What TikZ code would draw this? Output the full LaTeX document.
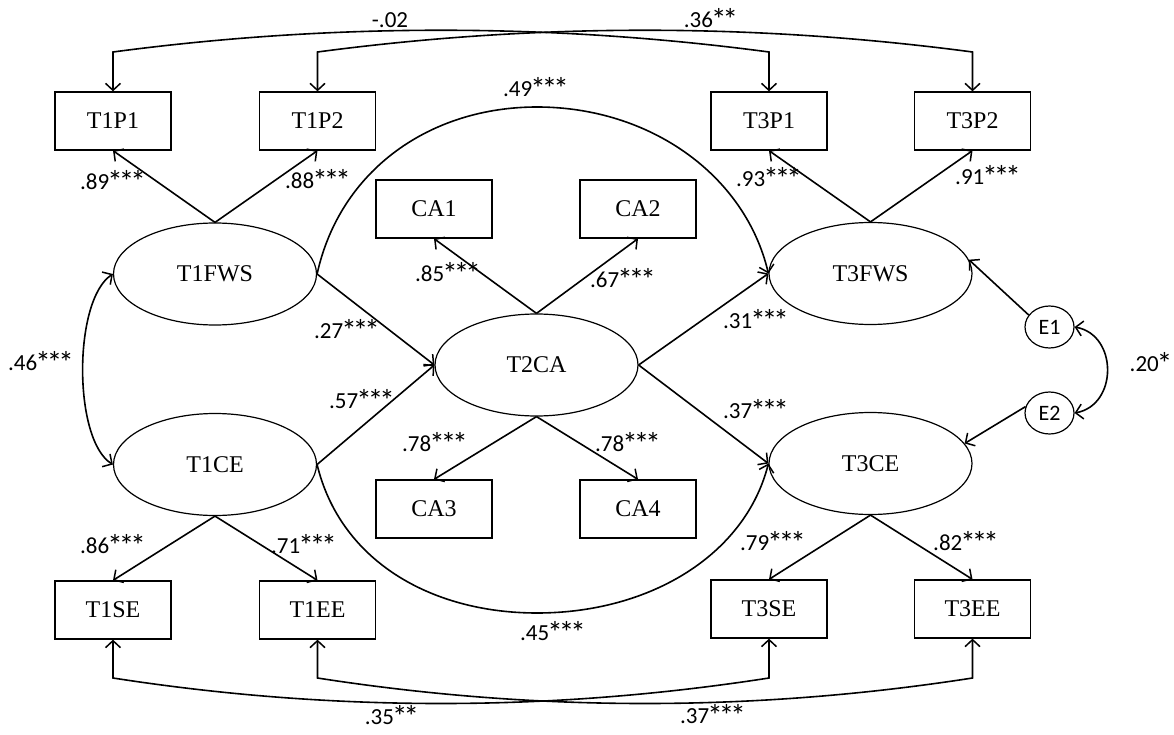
\documentclass[tikz,border=0pt]{standalone}
\usepackage{fontspec}
\setmainfont{Liberation Serif}
\newfontfamily\labfont{Carlito}
\usetikzlibrary{arrows.meta,shapes.geometric}
\newcommand\Ast{\makebox[0.5em]{\raisebox{-0.13em}{\scalebox{1.35}{*}}}}
\tikzset{
  box/.style={draw,line width=1.3pt,minimum width=116pt,minimum height=58pt,inner sep=0pt,font=\fontsize{24}{28}\selectfont},
  lat/.style={draw,ellipse,line width=1.2pt,minimum width=203pt,minimum height=102pt,inner sep=0pt,font=\fontsize{24}{28}\selectfont},
  err/.style={draw,ellipse,line width=1.2pt,minimum width=49pt,minimum height=42pt,inner sep=0pt,font=\labfont\fontsize{22}{26}\selectfont},
  lab/.style={inner sep=0pt,font=\labfont\fontsize{23}{27}\selectfont},
  tip/.tip={Straight Barb[length=7pt,width=15pt,line width=1.5pt]},
  arr/.style={line width=1.6pt,-tip},
  biarr/.style={line width=1.6pt,tip-tip},
}
\begin{document}
\begin{tikzpicture}[x=1pt,y=-1pt]
\useasboundingbox (0,0) rectangle (1174,735);
% boxes
\node[box] (T1P1) at (113,121) {T1P1};
\node[box] (T1P2) at (317.5,121) {T1P2};
\node[box] (T3P1) at (769,121) {T3P1};
\node[box] (T3P2) at (972.5,121) {T3P2};
\node[box] (CA1) at (434,209) {CA1};
\node[box] (CA2) at (638,209) {CA2};
\node[box] (CA3) at (434,509) {CA3};
\node[box] (CA4) at (638,509) {CA4};
\node[box] (T1SE) at (113,610) {T1SE};
\node[box] (T1EE) at (317.5,610) {T1EE};
\node[box] (T3SE) at (769,609) {T3SE};
\node[box] (T3EE) at (972.5,609) {T3EE};
% latent
\node[lat] (T1FWS) at (215,274) {T1FWS};
\node[lat] (T1CE) at (215,464.5) {T1CE};
\node[lat] (T2CA) at (536.5,365) {T2CA};
\node[lat] (T3FWS) at (870.5,273.5) {T3FWS};
\node[lat] (T3CE) at (870.5,463.5) {T3CE};
\node[err] (E1) at (1049.5,327) {E1};
\node[err] (E2) at (1049.5,413) {E2};
% loadings
\draw[arr] (T1FWS.north) -- (T1P1.south);
\draw[arr] (T1FWS.north) -- (T1P2.south);
\draw[arr] (T3FWS.north) -- (T3P1.south);
\draw[arr] (T3FWS.north) -- (T3P2.south);
\draw[arr] (T2CA.north) -- (CA1.south);
\draw[arr] (T2CA.north) -- (CA2.south);
\draw[arr] (T2CA.south) -- (CA3.north);
\draw[arr] (T2CA.south) -- (CA4.north);
\draw[arr] (T1CE.south) -- (T1SE.north);
\draw[arr] (T1CE.south) -- (T1EE.north);
\draw[arr] (T3CE.south) -- (T3SE.north);
\draw[arr] (T3CE.south) -- (T3EE.north);
% paths
\draw[arr] (T1FWS.east) -- (T2CA.west);
\draw[arr] (T1CE.east) -- (T2CA.west);
\draw[arr] (T2CA.east) -- (T3FWS.west);
\draw[arr] (T2CA.east) -- (T3CE.west);
\draw[arr] (T1FWS.east) .. controls (340,170) and (430,107) .. (537,107) .. controls (650,107) and (745,175) .. (T3FWS.west);
\draw[arr] (T1CE.east) .. controls (340,560) and (430,613) .. (537,613) .. controls (650,613) and (745,555) .. (T3CE.west);
\draw[arr] (E1.150) -- (T3FWS.8);
\draw[arr] (E2.165) -- (T3CE.12);
% covariances
\draw[biarr] (T1FWS.west) .. controls (73,300) and (73,440) .. (T1CE.west);
\draw[biarr] (E1.east) .. controls (1118,335) and (1118,405) .. (E2.east);
\coordinate (a1) at (113,52);
\coordinate (a2) at (769,52);
\coordinate (b1) at (317.5,52);
\coordinate (b2) at (972.5,52);
\draw[biarr] (T1P1.north) -- (a1) .. controls (331,23) and (551,23) .. (a2) -- (T3P1.north);
\draw[biarr] (T1P2.north) -- (b1) .. controls (536,23) and (754,23) .. (b2) -- (T3P2.north);
\coordinate (c1) at (113,678);
\coordinate (c2) at (769,678);
\coordinate (d1) at (317.5,678);
\coordinate (d2) at (972.5,678);
\draw[biarr] (T1SE.south) -- (c1) .. controls (332,712) and (550,712) .. (c2) -- (T3SE.south);
\draw[biarr] (T1EE.south) -- (d1) .. controls (536,712) and (754,712) .. (d2) -- (T3EE.south);
% labels
\node[lab] (l01) at (390,20) {-.02};
\node[lab] (l02) at (710,19) {.36\Ast\Ast};
\node[lab] (l03) at (535,88) {.49\Ast\Ast\Ast};
\node[lab] (l04) at (112,181) {.89\Ast\Ast\Ast};
\node[lab] (l05) at (317,180) {.88\Ast\Ast\Ast};
\node[lab] (l06) at (768,178) {.93\Ast\Ast\Ast};
\node[lab] (l07) at (987,176) {.91\Ast\Ast\Ast};
\node[lab] (l08) at (447,273) {.85\Ast\Ast\Ast};
\node[lab] (l09) at (622,279) {.67\Ast\Ast\Ast};
\node[lab] (l10) at (346,330) {.27\Ast\Ast\Ast};
\node[lab] (l11) at (361,400) {.57\Ast\Ast\Ast};
\node[lab] (l12) at (755,320) {.31\Ast\Ast\Ast};
\node[lab] (l13) at (755,410) {.37\Ast\Ast\Ast};
\node[lab] (l14) at (40,362) {.46\Ast\Ast\Ast};
\node[lab] (l15) at (1150,363) {.20\Ast};
\node[lab] (l16) at (434,443) {.78\Ast\Ast\Ast};
\node[lab] (l17) at (627,443) {.78\Ast\Ast\Ast};
\node[lab] (l18) at (112,545) {.86\Ast\Ast\Ast};
\node[lab] (l19) at (303,545) {.71\Ast\Ast\Ast};
\node[lab] (l20) at (772,542) {.79\Ast\Ast\Ast};
\node[lab] (l21) at (965,542) {.82\Ast\Ast\Ast};
\node[lab] (l22) at (552,632) {.45\Ast\Ast\Ast};
\node[lab] (l23) at (391,716) {.35\Ast\Ast};
\node[lab] (l24) at (712,715) {.37\Ast\Ast\Ast};
\end{tikzpicture}
\end{document}
